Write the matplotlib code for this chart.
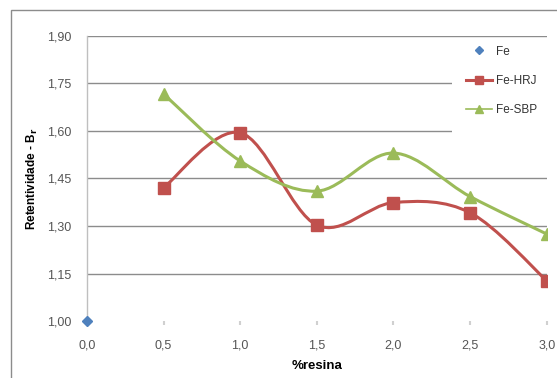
import matplotlib
matplotlib.use("Agg")
import matplotlib.pyplot as plt
from matplotlib.path import Path
from matplotlib.patches import PathPatch, Rectangle
from matplotlib.lines import Line2D
import numpy as np

plt.rcParams["font.family"] = ["Liberation Sans", "DejaVu Sans"]

resina = [0.5, 1.0, 1.5, 2.0, 2.5, 3.0]
fe_x = [0.0]
fe_y = [1.00]
hrj = [1.421, 1.594, 1.303, 1.374, 1.342, 1.128]
sbp = [1.716, 1.505, 1.410, 1.530, 1.393, 1.275]
y_ticks = [1.00, 1.15, 1.30, 1.45, 1.60, 1.75, 1.90]
x_ticks = [0.0, 0.5, 1.0, 1.5, 2.0, 2.5, 3.0]

BLUE = "#4F81BD"
RED = "#C0504D"
GREEN = "#9BBB59"
GRID = "#8C8C8C"


def smooth_path(xs, ys):
    # Excel-style smoothed line: cubic Bezier through each point
    pts = np.column_stack([xs, ys])
    verts = [pts[0]]
    codes = [Path.MOVETO]
    n = len(pts)
    for i in range(n - 1):
        p0 = pts[max(i - 1, 0)]
        p1 = pts[i]
        p2 = pts[i + 1]
        p3 = pts[min(i + 2, n - 1)]
        c1 = p1 + (p2 - p0) / 6.0
        c2 = p2 - (p3 - p1) / 6.0
        verts += [c1, c2, p2]
        codes += [Path.CURVE4] * 3
    return Path(verts, codes)


fig = plt.figure(figsize=(5.57, 3.78), dpi=100)
fig.patches.append(Rectangle((11 / 557, -0.1), 1.2, 1 - 10 / 378 + 0.1,
                             transform=fig.transFigure, fill=False,
                             edgecolor="#8C8C8C", linewidth=1.0))

ax = fig.add_axes([87 / 557, 1 - 321.3 / 378, (546.7 - 87) / 557, (321.3 - 35.6) / 378])
ax.set_xlim(0, 3.0)
ax.set_ylim(1.0, 1.9)

for v in y_ticks[1:]:
    ax.axhline(v, color=GRID, linewidth=1.0, zorder=1)

for xs, ys, col in [(resina, hrj, RED), (resina, sbp, GREEN)]:
    ax.add_patch(PathPatch(smooth_path(xs, ys), facecolor="none", edgecolor=col,
                           linewidth=2.2, zorder=3, capstyle="round", joinstyle="round"))

ax.plot(resina, hrj, linestyle="none", marker="s", markersize=8.5, color=RED, zorder=4)
ax.plot(resina, sbp, linestyle="none", marker="^", markersize=9, color=GREEN, zorder=4)
ax.plot(fe_x, fe_y, linestyle="none", marker="D", markersize=5.5, color=BLUE, zorder=5, clip_on=False)

for s in ["top", "right", "bottom"]:
    ax.spines[s].set_visible(False)
ax.spines["left"].set_color("#BFBFBF")
ax.spines["left"].set_linewidth(1.0)

ax.set_yticks(y_ticks)
ax.set_yticklabels([f"{v:.2f}".replace(".", ",") for v in y_ticks])
ax.set_xticks(x_ticks)
ax.set_xticklabels([f"{v:.1f}".replace(".", ",") for v in x_ticks])
ax.tick_params(axis="y", length=0, pad=11, labelsize=9, labelcolor="#555555")
ax.tick_params(axis="x", length=3, color="#D0D0D0", width=1.5, pad=10,
               labelsize=9, labelcolor="#555555")

ax.set_xlabel("%resina", fontsize=9.5, fontweight="bold", labelpad=6)
ax.set_ylabel("Retentividade - B$_\\mathbf{r}$", fontsize=8.5, fontweight="bold")
ax.yaxis.set_label_coords(-47 / 460, 0.5)

# legend drawn on a white box covering the grid
fig.patches.append(Rectangle((452 / 557, 1 - 140 / 378), 97 / 557, 95 / 378,
                             transform=fig.transFigure, facecolor="white",
                             edgecolor="none", zorder=2))
handles = [
    Line2D([], [], linestyle="none", marker="D", markersize=4, color=BLUE),
    Line2D([], [], color=RED, linewidth=2.2, marker="s", markersize=6),
    Line2D([], [], color=GREEN, linewidth=1.2, marker="^", markersize=6),
]
leg = fig.legend(handles, ["Fe", "Fe-HRJ", "Fe-SBP"], loc="upper left",
                 bbox_to_anchor=(455 / 557, 1 - 35 / 378), frameon=False,
                 fontsize=8.5, handlelength=2.2, handletextpad=0.4, labelspacing=1.45)
for t in leg.get_texts():
    t.set_color("#333333")

fig.savefig("out.png", dpi=100)
